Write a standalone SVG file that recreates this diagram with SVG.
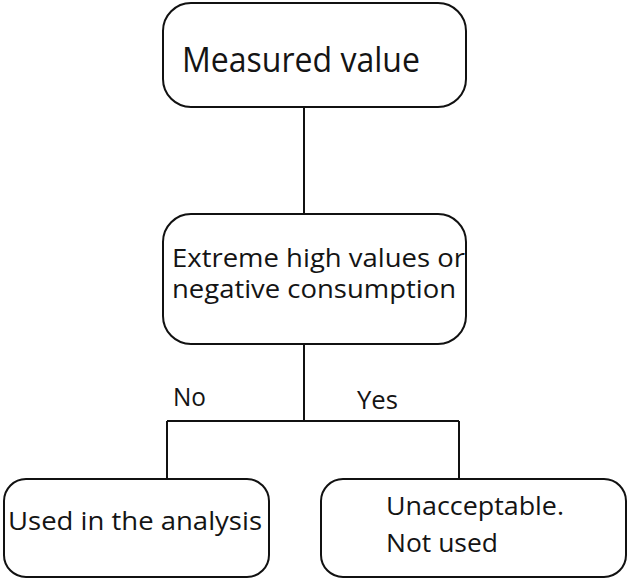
<svg xmlns="http://www.w3.org/2000/svg" width="630" height="580" viewBox="0 0 630 580">
<style>
.box{fill:#fff;stroke:#111;stroke-width:2}
.ln{fill:none;stroke:#111;stroke-width:2}
text{font-family:"Open Sans","Liberation Sans",sans-serif;fill:#141414}
.t{font-size:25px}
.big{font-size:35px}
</style>
<rect width="630" height="580" fill="#fff"/>
<g id="connectors">
<path class="ln" d="M304 107V214"/>
<path class="ln" d="M304 344V421"/>
<path class="ln" d="M167 421H459"/>
<path class="ln" d="M167 421V479"/>
<path class="ln" d="M459 421V479"/>
</g>
<g id="measured">
<rect class="box" x="163" y="3" width="303" height="104" rx="28" ry="28"/>
<text class="big" x="182" y="72" textLength="238" lengthAdjust="spacingAndGlyphs">Measured value</text>
</g>
<g id="extreme">
<rect class="box" x="163" y="214" width="303" height="130" rx="28" ry="28"/>
<text class="t" x="172" y="267" textLength="293" lengthAdjust="spacingAndGlyphs">Extreme high values or</text>
<text class="t" x="172" y="298" textLength="284" lengthAdjust="spacingAndGlyphs">negative consumption</text>
</g>
<g id="labels">
<text class="t" x="173" y="406" textLength="33" lengthAdjust="spacingAndGlyphs">No</text>
<text class="t" x="357" y="409" textLength="41" lengthAdjust="spacingAndGlyphs">Yes</text>
</g>
<g id="used">
<rect class="box" x="4" y="479" width="265" height="98" rx="22" ry="22"/>
<text class="t" x="8" y="530" textLength="254" lengthAdjust="spacingAndGlyphs">Used in the analysis</text>
</g>
<g id="unacceptable">
<rect class="box" x="321" y="479" width="305" height="98" rx="22" ry="22"/>
<text class="t" x="386" y="515" textLength="178" lengthAdjust="spacingAndGlyphs">Unacceptable.</text>
<text class="t" x="386" y="552" textLength="112" lengthAdjust="spacingAndGlyphs">Not used</text>
</g>
</svg>
